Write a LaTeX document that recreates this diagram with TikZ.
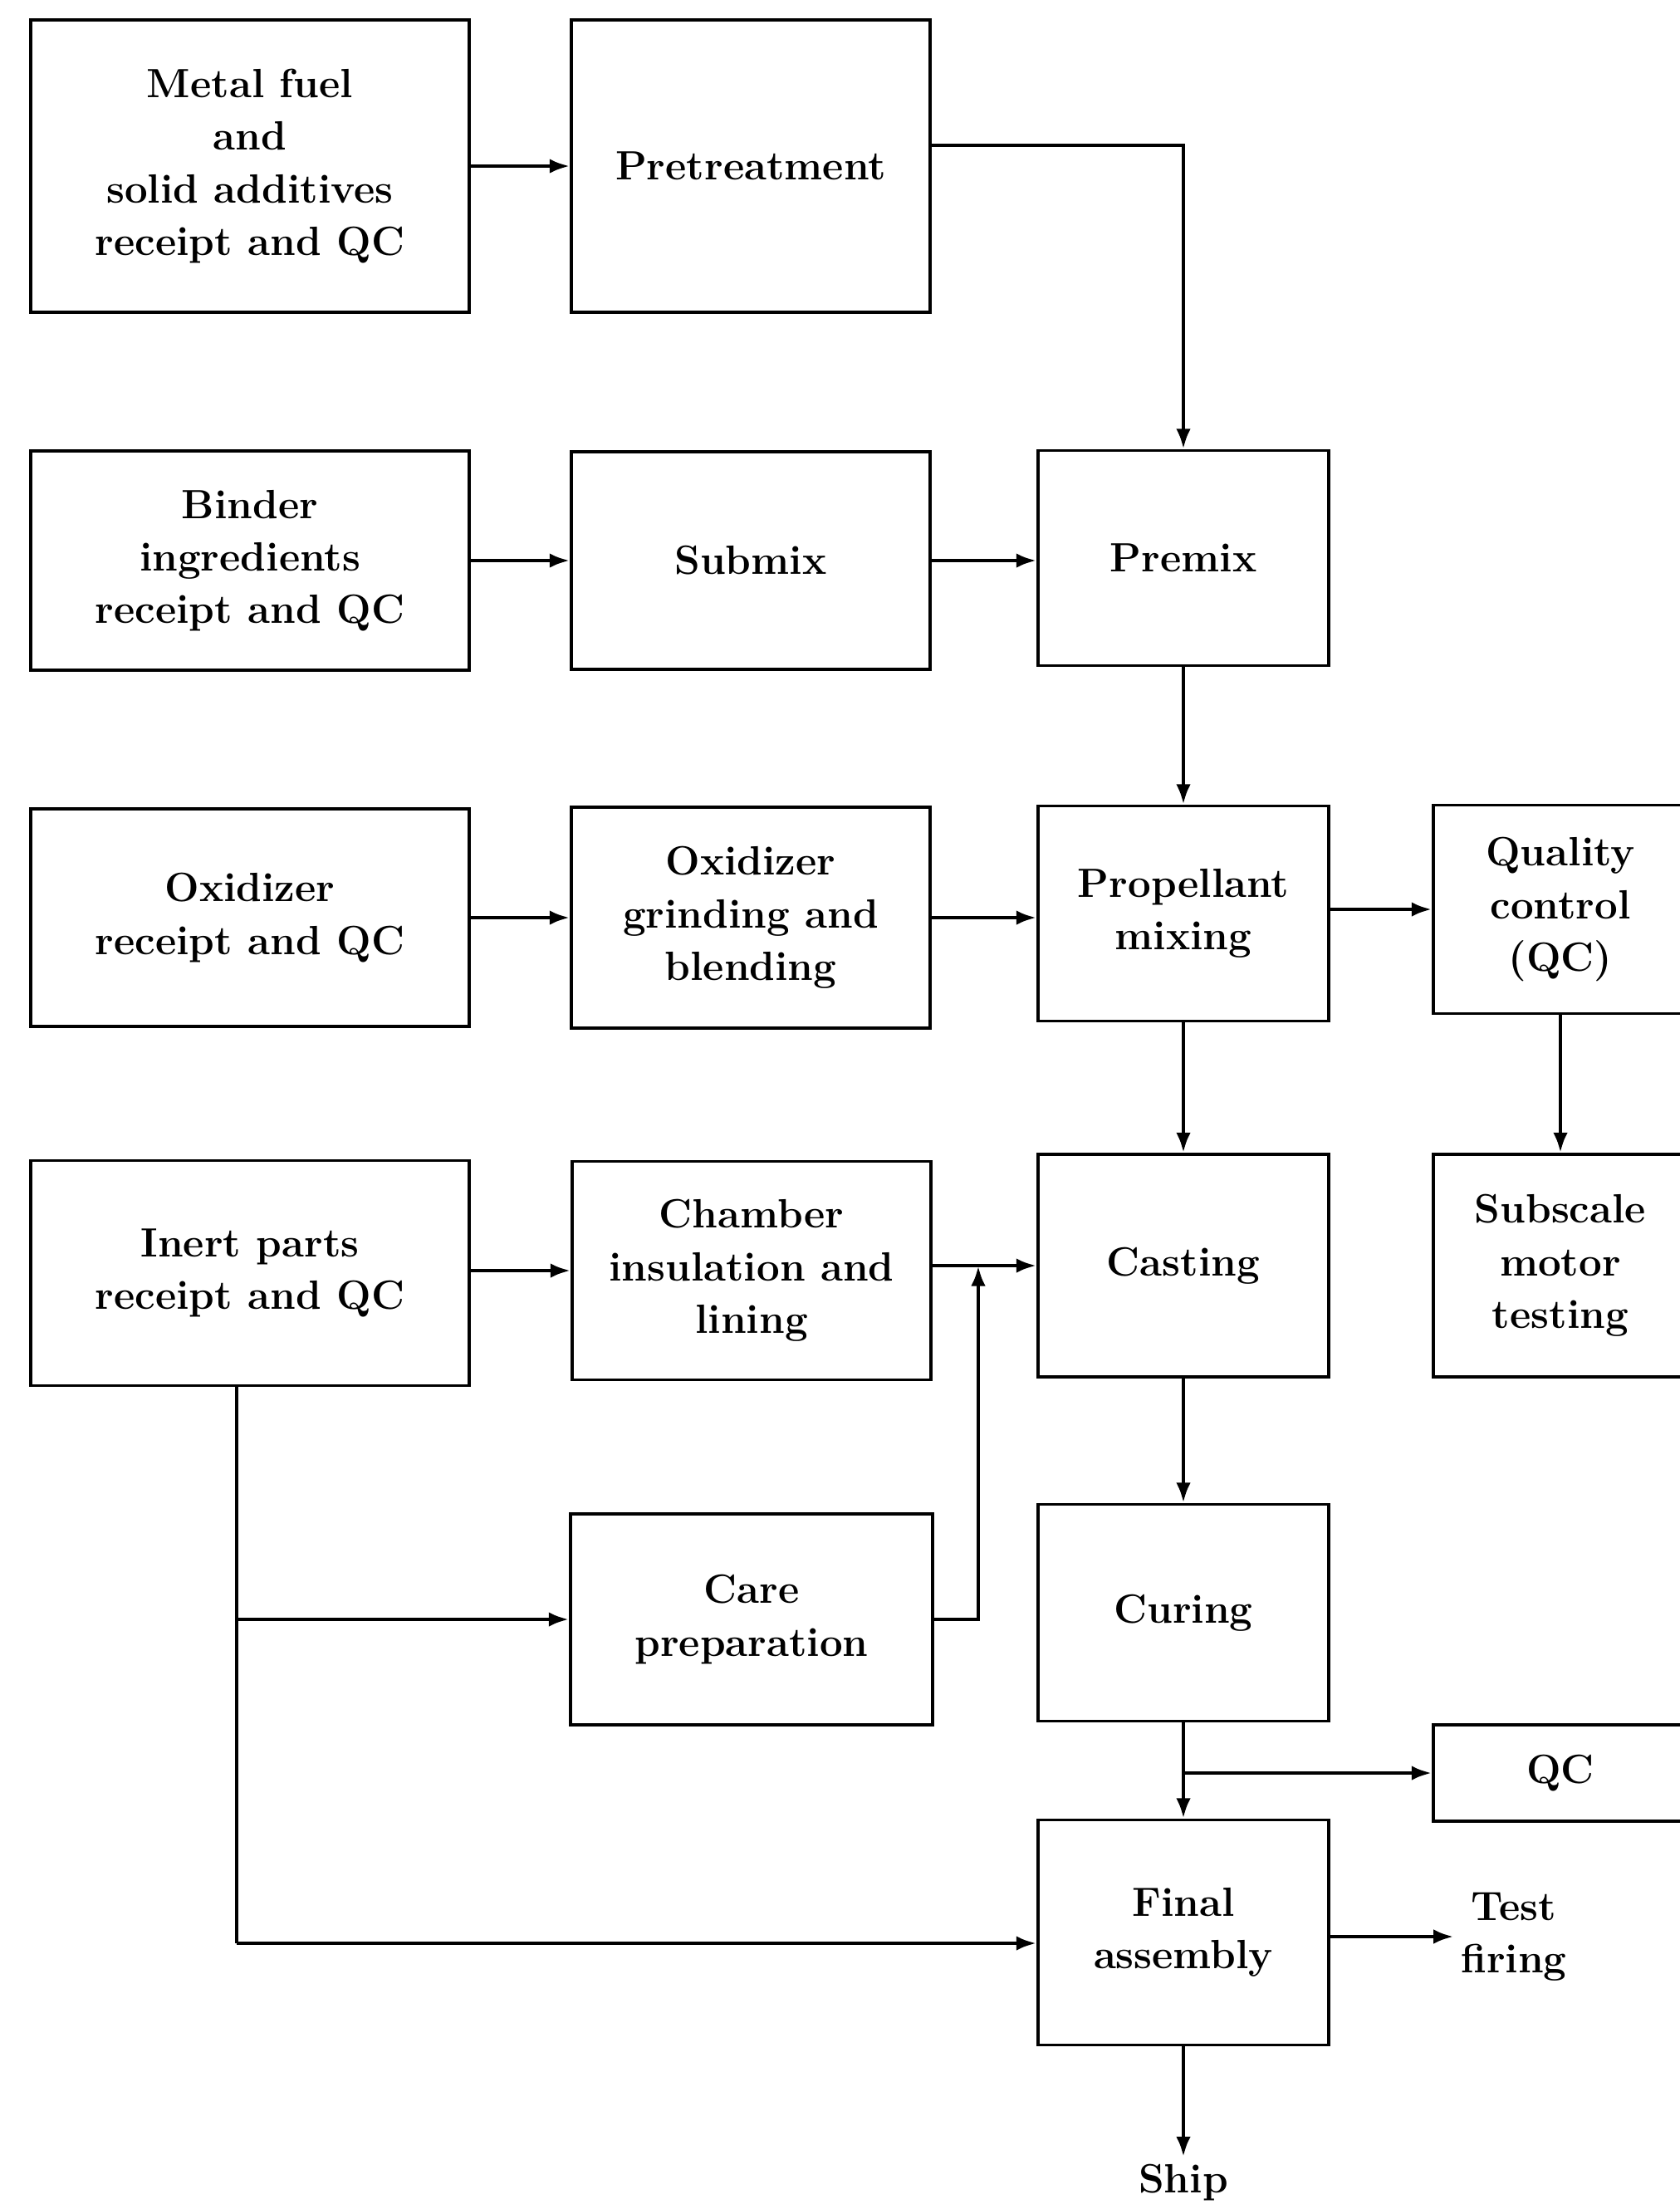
\documentclass[tikz,border=0pt]{standalone}
\usepackage{amsmath,amssymb}
\usepackage{xcolor}
\usetikzlibrary{arrows.meta}

\begin{document}
\begin{tikzpicture}[scale=1.0,
    box/.style={draw,line width=0.9pt,align=center,inner sep=2pt,
      font=\fontsize{14}{18}\selectfont\bfseries},
    flow/.style={line width=1.4pt,-{Latex[length=7pt,width=5pt]}},
    plain/.style={line width=1.4pt}]
    \useasboundingbox (0,0) rectangle (20.23,-26.60);
    % receipt column
    \node[box,minimum width=5.28cm,minimum height=3.52cm] (metal) at (3.01,-2.00) {Metal fuel\\and\\solid additives\\receipt and QC};
    \node[box,minimum width=5.28cm,minimum height=2.64cm] (binder) at (3.01,-6.75) {Binder\\ingredients\\receipt and QC};
    \node[box,minimum width=5.28cm,minimum height=2.62cm] (oxid) at (3.01,-11.05) {Oxidizer\\receipt and QC};
    \node[box,minimum width=5.28cm,minimum height=2.71cm] (inert) at (3.01,-15.33) {Inert parts\\receipt and QC};
    % preparation column
    \node[box,minimum width=4.32cm,minimum height=3.52cm] (pretreat) at (9.04,-2.00) {Pretreatment};
    \node[box,minimum width=4.32cm,minimum height=2.62cm] (submix) at (9.04,-6.75) {Submix};
    \node[box,minimum width=4.32cm,minimum height=2.66cm] (grind) at (9.04,-11.05) {Oxidizer\\grinding and\\blending};
    \node[box,minimum width=4.32cm,minimum height=2.63cm] (chamber) at (9.05,-15.30) {Chamber\\insulation and\\lining};
    \node[box,minimum width=4.36cm,minimum height=2.54cm] (care) at (9.05,-19.50) {Care\\preparation};
    % main line
    \node[box,minimum width=3.50cm,minimum height=2.59cm] (premix) at (14.25,-6.72) {Premix};
    \node[box,minimum width=3.50cm,minimum height=2.59cm] (mixing) at (14.25,-11.00) {Propellant\\mixing};
    \node[box,minimum width=3.50cm,minimum height=2.68cm] (casting) at (14.25,-15.24) {Casting};
    \node[box,minimum width=3.50cm,minimum height=2.61cm] (curing) at (14.25,-19.42) {Curing};
    \node[box,minimum width=3.50cm,minimum height=2.71cm] (final) at (14.25,-23.27) {Final\\assembly};
    % checks
    \node[box,minimum width=3.06cm,minimum height=2.51cm] (quality) at (18.79,-10.95) {Quality\\control\\(QC)};
    \node[box,minimum width=3.06cm,minimum height=2.68cm] (subscale) at (18.79,-15.24) {Subscale\\motor\\testing};
    \node[box,minimum width=3.06cm,minimum height=1.16cm] (qcsmall) at (18.79,-21.35) {QC};
    \node[box,draw=none] (test) at (18.23,-23.32) {Test\\firing};
    \node[box,draw=none] (ship) at (14.25,-26.28) {Ship};
    % junctions
    \coordinate (trunk) at (2.85,-23.40);
    \coordinate (cjoin) at (11.78,-15.24);

    \draw[flow] (metal) -- (pretreat);
    \draw[flow] ([yshift=0.25cm]pretreat.east) -| (premix.north);
    \draw[flow] (binder) -- (submix);
    \draw[flow] (submix) -- (premix.west |- submix);
    \draw[flow] (premix) -- (mixing);
    \draw[flow] (oxid) -- (grind);
    \draw[flow] (grind) -- (mixing.west |- grind);
    \draw[flow] (mixing.east |- quality) -- (quality);
    \draw[flow] (quality) -- (subscale);
    \draw[flow] (mixing) -- (casting);
    \draw[flow] (inert.east |- chamber) -- (chamber);
    \draw[flow] (chamber.east |- casting) -- (casting);
    \draw[flow] (care.east) -| (cjoin);
    \draw[plain] (inert.south -| trunk) -- (trunk);
    \draw[flow] (care.west -| trunk) -- (care.west);
    \draw[flow] (trunk) -- (final.west |- trunk);
    \draw[flow] (casting) -- (curing);
    \draw[flow] (curing) -- (final);
    \draw[flow] (curing.south |- qcsmall.west) -- (qcsmall.west);
    \draw[flow] (final.east |- test) -- (test.west);
    \draw[flow] (final) -- (ship);
\end{tikzpicture}
\end{document}
